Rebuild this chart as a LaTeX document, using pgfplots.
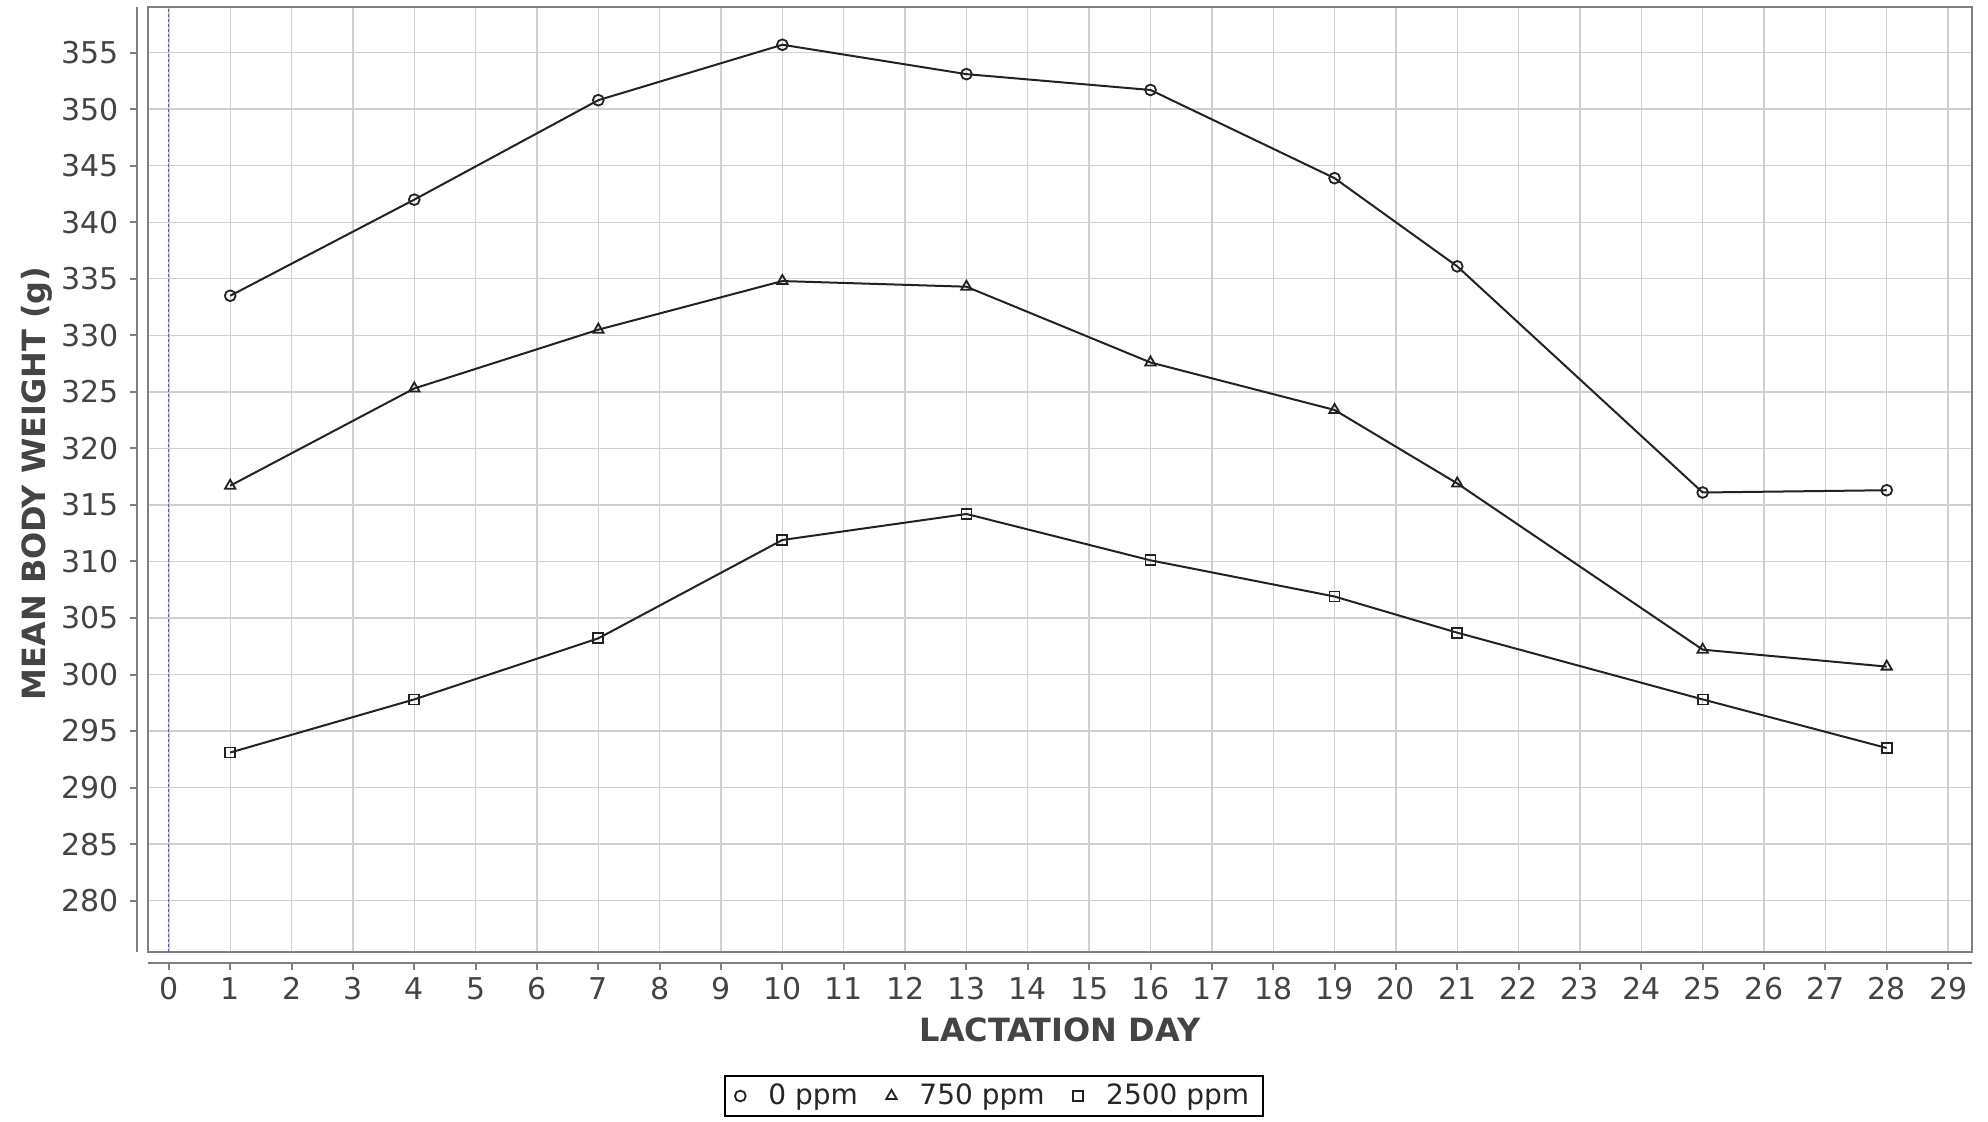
\documentclass[border=0pt]{standalone}
\usepackage{fontspec}
\setmainfont{DejaVu Sans}
\usepackage{pgfplots}
\pgfplotsset{compat=1.18}
\usepackage{xcolor}
\definecolor{TickGray}{HTML}{444444}
\definecolor{FrameGray}{HTML}{808080}
\definecolor{GridGray}{HTML}{D0D0D0}
\definecolor{LineBlack}{HTML}{222222}
\definecolor{ZeroBlue}{HTML}{5050FF}

\pgfplotsset{
  common/.style={
    scale only axis,
    width=912pt, height=472.5pt,
    xmin=-0.34, xmax=29.39,
    ymin=275.46, ymax=359.04,
    xtick={0,...,29},
    ytick={280,285,...,355},
    /pgf/number format/assume math mode=true,
    tick label style={font=\fontsize{15}{18}\selectfont, text=TickGray},
    label style={font=\fontsize{16}{19}\selectfont\bfseries, text=TickGray},
  },
}

\begin{document}
\begin{tikzpicture}
\path[use as bounding box] (-74pt,-85pt) rectangle (920pt,476pt);

% plot box, grid and data
\begin{axis}[
  common,
  at={(0pt,0pt)}, anchor=south west,
  xticklabels={}, yticklabels={},
  major tick length=0pt,
  grid=major,
  major grid style={draw=GridGray, line width=0.7pt},
  axis line style={draw=FrameGray, line width=1pt},
  legend style={
    at={(0.4638,-0.1524)}, anchor=center,
    legend columns=3,
    draw=black, line width=0.8pt,
    font=\fontsize{14}{17}\selectfont,
    text=black!85,
    inner xsep=5pt, inner ysep=2pt,
    /tikz/every even column/.append style={column sep=12pt},
  },
  legend image code/.code={
    \path[draw=none] (-2.8pt,0pt) (12pt,0pt);
    \draw[#1, only marks] plot coordinates {(0pt,0pt)};
  },
]
\addplot[ZeroBlue, line width=0.6pt, dash pattern=on 1.5pt off 1pt, forget plot]
  coordinates {(0,275.46) (0,359.04)};

\addplot[LineBlack, line width=1pt, mark=o, mark size=2.7pt,
  mark options={line width=0.9pt, solid}] coordinates {
  (1,333.5) (4,342.0) (7,350.8) (10,355.7) (13,353.1)
  (16,351.7) (19,343.9) (21,336.1) (25,316.1) (28,316.3)
};
\addplot[LineBlack, line width=1pt, mark=triangle, mark size=3.0pt,
  mark options={line width=0.9pt, solid}] coordinates {
  (1,316.7) (4,325.3) (7,330.5) (10,334.8) (13,334.3)
  (16,327.6) (19,323.4) (21,316.9) (25,302.2) (28,300.7)
};
\addplot[LineBlack, line width=1pt, mark=square, mark size=2.5pt,
  mark options={line width=0.9pt, solid}] coordinates {
  (1,293.1) (4,297.8) (7,303.2) (10,311.9) (13,314.2)
  (16,310.1) (19,306.9) (21,303.7) (25,297.8) (28,293.5)
};
\legend{0 ppm, 750 ppm, 2500 ppm}
\end{axis}

% offset y axis
\begin{axis}[
  common,
  at={(-5.5pt,0pt)}, anchor=south west,
  axis y line*=left, axis x line=none,
  axis line style={draw=FrameGray, line width=1pt},
  tick style={draw=FrameGray, line width=1pt},
  tick align=outside, major tick length=3.5pt,
  yticklabel style={inner sep=0pt, anchor=east, xshift=-5.5pt},
  ylabel={MEAN BODY WEIGHT (g)},
  ylabel style={at={(axis description cs:-0.0548,0.4958)}, anchor=center},
]
\end{axis}

% offset x axis
\begin{axis}[
  common,
  at={(0pt,-5.5pt)}, anchor=south west,
  axis x line*=bottom, axis y line=none,
  axis line style={draw=FrameGray, line width=1pt},
  tick style={draw=FrameGray, line width=1pt},
  tick align=outside, major tick length=3.5pt,
  xticklabel style={inner sep=0pt, anchor=north, yshift=-3.5pt},
  xlabel={LACTATION DAY},
  xlabel style={at={(axis description cs:0.5,0)}, anchor=base, yshift=-39.5pt},
]
\end{axis}
\end{tikzpicture}
\end{document}
